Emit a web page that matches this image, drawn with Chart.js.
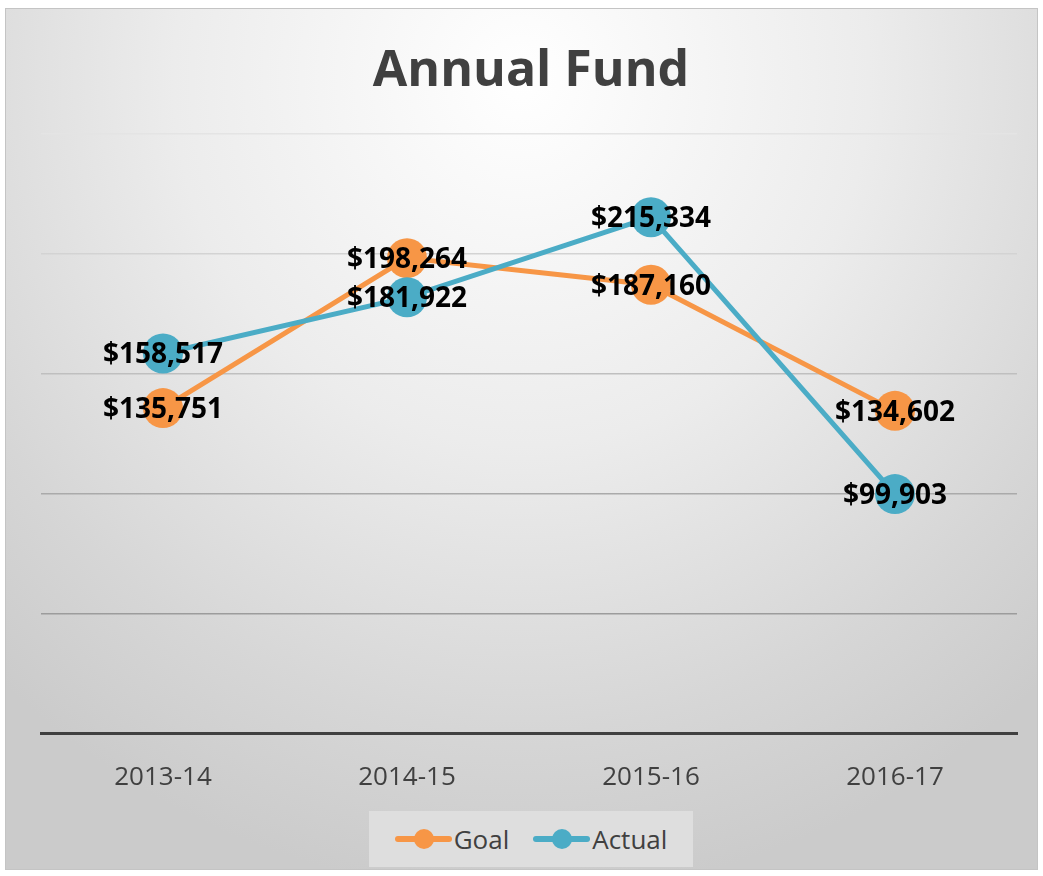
<!DOCTYPE html>
<html>
<head>
<meta charset="utf-8">
<script src="https://cdn.jsdelivr.net/npm/chart.js@4/dist/chart.umd.min.js"></script>
<style>
  html, body { margin: 0; padding: 0; background: #fff; }
  #frame {
    position: absolute; left: 5px; top: 8px; width: 1031px; height: 860px;
    border: 1px solid #c4c4c4;
    background: radial-gradient(ellipse 75% 95% at 50% 8%, #ffffff 0%, #ececec 45%, #d6d6d6 80%, #cbcbcb 100%);
  }
  #chart { position: absolute; left: 0; top: 0; }
  #legend {
    position: absolute; left: 363px; top: 802px; width: 324px; height: 56px;
    background: #dedede; display: flex; align-items: center; justify-content: center;
    font-family: "Open Sans", "Noto Sans", sans-serif; font-size: 26px; color: #404040;
  }
  .item { display: flex; align-items: center; margin: 0 12px; }
  .mark { position: relative; width: 57px; height: 20px; margin-right: 2px; }
  .mark .ln { position: absolute; left: 0; right: 0; top: 7px; height: 6px; border-radius: 3px; }
  .mark .dot { position: absolute; left: 19px; top: 0; width: 20px; height: 20px; border-radius: 50%; }
</style>
</head>
<body>
<div id="frame">
  <canvas id="chart" width="1031" height="860"></canvas>
  <div id="legend"></div>
</div>
<script>
// ---- Data ----
const categories = ['2013-14', '2014-15', '2015-16', '2016-17'];
const goalValues = [135751, 198264, 187160, 134602];
const actualValues = [158517, 181922, 215334, 99903];
const yTicks = [0, 50000, 100000, 150000, 200000, 250000];

const ORANGE = '#F79646';
const BLUE = '#4BACC6';
// gridlines fade from dark at the bottom to light at the top
const gridColors = ['#404040', '#9c9c9c', '#aaaaaa', '#bfbfbf', '#d3d3d3', '#e4e4e4'];

// ---- Legend ----
const legend = document.getElementById('legend');
legend.innerHTML = [['Goal', ORANGE], ['Actual', BLUE]].map(([name, c]) =>
  `<div class="item"><div class="mark"><div class="ln" style="background:${c}"></div><div class="dot" style="background:${c}"></div></div><span>${name}</span></div>`
).join('');

// ---- Value labels drawn on the points ----
const valueLabels = {
  id: 'valueLabels',
  afterDatasetsDraw(chart) {
    const ctx = chart.ctx;
    ctx.save();
    ctx.font = 'bold 28px "Open Sans", "Noto Sans", sans-serif';
    ctx.fillStyle = '#000';
    ctx.textAlign = 'center';
    ctx.textBaseline = 'middle';
    chart.data.datasets.forEach((ds, i) => {
      chart.getDatasetMeta(i).data.forEach((pt, j) => {
        ctx.fillText('$' + ds.data[j].toLocaleString('en-US'), pt.x, pt.y + 2);
      });
    });
    ctx.restore();
  }
};

new Chart(document.getElementById('chart'), {
  type: 'line',
  data: {
    labels: categories,
    datasets: [
      {
        label: 'Goal', data: goalValues, order: 2,
        borderColor: ORANGE, backgroundColor: ORANGE, borderWidth: 5,
        pointRadius: 20, pointHoverRadius: 20, pointBorderWidth: 0, tension: 0
      },
      {
        label: 'Actual', data: actualValues, order: 1,
        borderColor: BLUE, backgroundColor: BLUE, borderWidth: 5,
        pointRadius: 20, pointHoverRadius: 20, pointBorderWidth: 0, tension: 0
      }
    ]
  },
  options: {
    responsive: false,
    animation: false,
    layout: { padding: { left: 35, right: 16, top: 0, bottom: 56 } },
    plugins: {
      legend: { display: false },
      tooltip: { enabled: false },
      title: {
        display: true, text: 'Annual Fund', color: '#404040',
        font: { family: '"Open Sans", "Noto Sans", sans-serif', size: 50, weight: 'bold' },
        padding: { top: 33, bottom: 32 }
      }
    },
    scales: {
      x: {
        offset: true,
        grid: { display: false },
        border: { display: true, color: '#404040', width: 3 },
        ticks: { color: '#404040', padding: 20, font: { family: '"Open Sans", "Noto Sans", sans-serif', size: 26 } }
      },
      y: {
        min: 0, max: 250000,
        afterBuildTicks: (axis) => { axis.ticks = yTicks.map(v => ({ value: v })); },
        grid: {
          color: (c) => gridColors[c.index] || '#c4c4c4',
          lineWidth: 1.5, drawTicks: false
        },
        border: { display: false },
        ticks: { display: false }
      }
    }
  },
  plugins: [valueLabels]
});
</script>
</body>
</html>
